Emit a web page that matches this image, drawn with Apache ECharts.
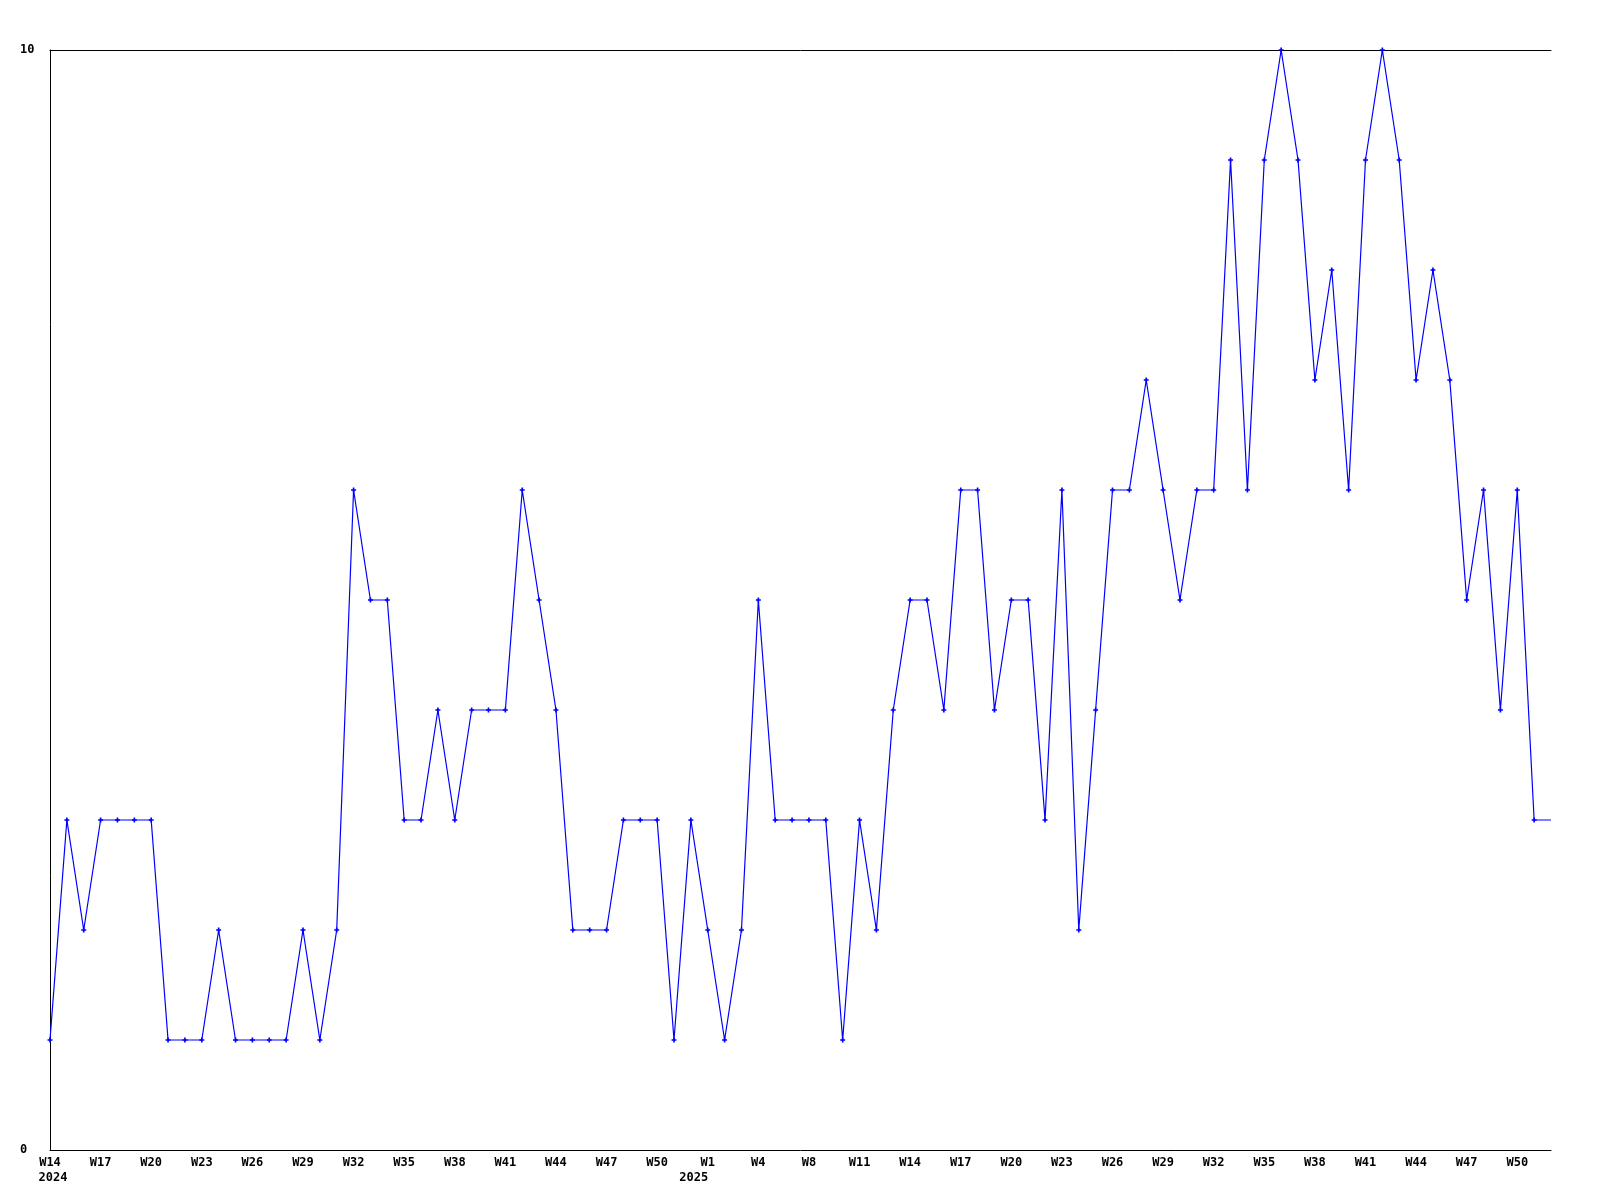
<!DOCTYPE html>
<html>
<head>
<meta charset="utf-8">
<style>
  html, body { margin: 0; padding: 0; background: #ffffff; }
  #chart { width: 1600px; height: 1200px; }
</style>
<script src="https://cdn.jsdelivr.net/npm/echarts@6/dist/echarts.min.js"></script>
</head>
<body>
<div id="chart"></div>
<script>
// Weekly categories: 2024 W14..W52, 2025 W1..W51
const categories = [];
for (let w = 14; w <= 52; w++) categories.push('2024-W' + w);
for (let w = 1; w <= 51; w++) categories.push('2025-W' + w);

// Tick labels shown every third category
const tickLabels = ['W14','W17','W20','W23','W26','W29','W32','W35','W38','W41','W44','W47','W50',
  'W1','W4','W8','W11','W14','W17','W20','W23','W26','W29','W32','W35','W38','W41','W44','W47','W50'];

// Series values (one per week)
const values = [
  1,3,2,3,3,3,3,1,1,1,
  2,1,1,1,1,2,1,2,6,5,
  5,3,3,4,3,4,4,4,6,5,
  4,2,2,2,3,3,3,1,3,2,
  1,2,5,3,3,3,3,1,3,2,
  4,5,5,4,6,6,4,5,5,3,
  6,2,4,6,6,7,6,5,6,6,
  9,6,9,10,9,7,8,6,9,10,
  9,7,8,7,5,6,4,6,3,3
];

const yTicks = [0, 10];

const font = '"DejaVu Sans Mono", "Liberation Mono", monospace';
const chart = echarts.init(document.getElementById('chart'), null, { renderer: 'canvas' });

const seriesData = values.map((v, i) => i === values.length - 1 ? { value: v, symbol: 'none' } : v);

chart.setOption({
  animation: false,
  backgroundColor: '#ffffff',
  grid: { left: 50, right: 49, top: 50, bottom: 50, containLabel: false },
  xAxis: [
    {
      type: 'category',
      data: categories,
      boundaryGap: false,
      position: 'bottom',
      axisLine: { show: true, onZero: false, lineStyle: { color: '#000000', width: 1 } },
      axisTick: { show: false },
      splitLine: { show: false },
      axisLabel: {
        interval: 2,
        margin: 7,
        color: '#000000',
        fontFamily: font,
        fontWeight: 'bold',
        fontSize: 12,
        formatter: function (val, idx) { return tickLabels[Math.round(idx / 3)] || ''; }
      }
    },
    {
      type: 'category',
      data: categories,
      boundaryGap: false,
      position: 'bottom',
      axisLine: { show: false },
      axisTick: { show: false },
      splitLine: { show: false },
      axisLabel: {
        interval: 0,
        margin: 22,
        color: '#000000',
        fontFamily: font,
        fontWeight: 'bold',
        fontSize: 12,
        formatter: function (val, idx) {
          const y = val.slice(0, 4);
          if (idx === 0) return '{a|' + y + '}';
          if (categories[idx - 1].slice(0, 4) !== y) return '{b|' + y + '}';
          return '';
        },
        rich: {
          a: { fontFamily: font, fontWeight: 'bold', fontSize: 12, color: '#000000', padding: [0, 0, 0, 6] },
          b: { fontFamily: font, fontWeight: 'bold', fontSize: 12, color: '#000000', padding: [0, 28, 0, 0] }
        }
      }
    },
    {
      type: 'category',
      data: categories,
      boundaryGap: false,
      position: 'top',
      axisLine: { show: true, onZero: false, lineStyle: { color: '#000000', width: 1 } },
      axisTick: { show: false },
      axisLabel: { show: false },
      splitLine: { show: false }
    }
  ],
  yAxis: {
    type: 'value',
    min: yTicks[0],
    max: yTicks[yTicks.length - 1],
    interval: 10,
    axisLine: { show: true, onZero: false, lineStyle: { color: '#000000', width: 1 } },
    axisTick: { show: false },
    splitLine: { show: false },
    axisLabel: {
      align: 'left',
      margin: 30,
      padding: [4, 0, 0, 0],
      color: '#000000',
      fontFamily: font,
      fontWeight: 'bold',
      fontSize: 12
    }
  },
  series: [{
    type: 'line',
    xAxisIndex: 0,
    data: seriesData,
    symbol: 'path://M2,0H4V2H6V4H4V6H2V4H0V2H2Z',
    symbolSize: 5,
    showAllSymbol: true,
    lineStyle: { color: '#0000ff', width: 1.2 },
    itemStyle: { color: '#0000ff' },
    emphasis: { disabled: true }
  }]
});
</script>
</body>
</html>
